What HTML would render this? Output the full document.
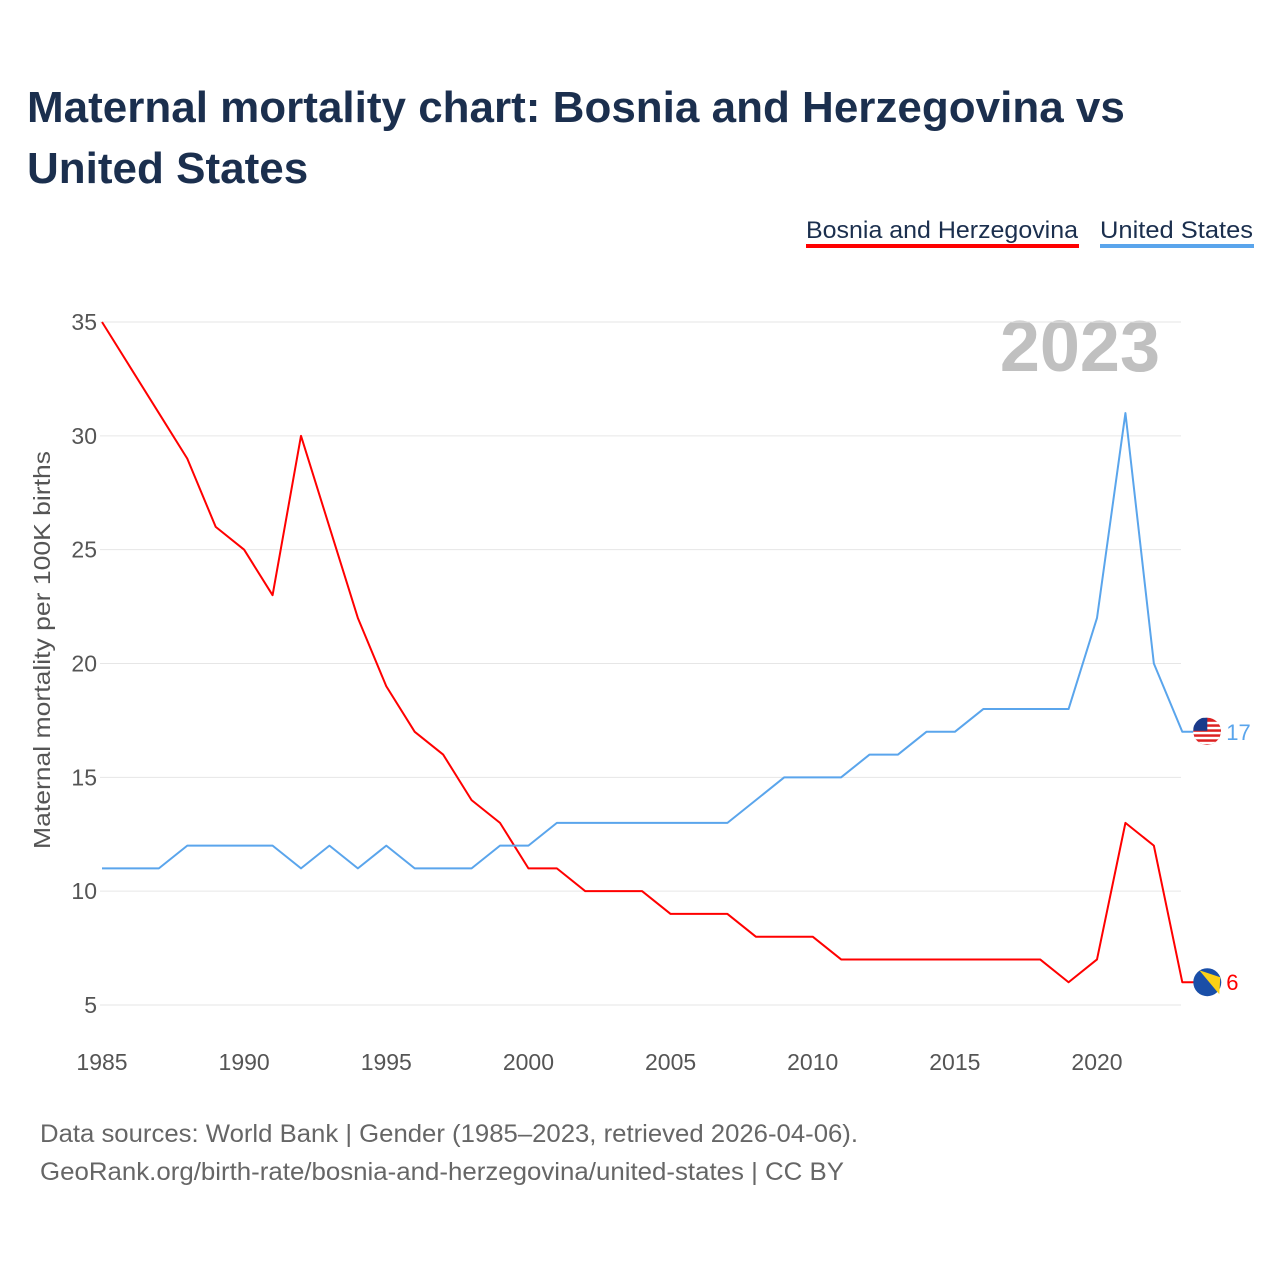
<!DOCTYPE html>
<html><head><meta charset="utf-8"><style>
body{margin:0;background:#fff;font-family:"Liberation Sans",sans-serif}
</style></head><body>
<svg width="1280" height="1280" xmlns="http://www.w3.org/2000/svg" id="svg" font-family="Liberation Sans, sans-serif">
<defs><clipPath id="usclip"><circle cx="1207" cy="731" r="14"/></clipPath></defs>
<text x="27" y="122" font-size="44" font-weight="bold" fill="#1b2f4e">Maternal mortality chart: Bosnia and Herzegovina vs</text>
<text x="27" y="183" font-size="44" font-weight="bold" fill="#1b2f4e">United States</text>
<g><text x="806" y="238" font-size="24" fill="#1b2f4e" textLength="272" lengthAdjust="spacingAndGlyphs">Bosnia and Herzegovina</text><rect x="806" y="244" width="273" height="4" fill="#ff0000"/></g>
<g><text x="1100" y="238" font-size="24" fill="#1b2f4e" textLength="153" lengthAdjust="spacingAndGlyphs">United States</text><rect x="1100" y="244" width="154" height="4" fill="#5aa5ec"/></g>
<text x="1160" y="371" font-size="72" font-weight="bold" fill="#c0c0c0" text-anchor="end">2023</text>
<text transform="translate(50,650) rotate(-90)" font-size="23" fill="#555" text-anchor="middle" textLength="398" lengthAdjust="spacingAndGlyphs">Maternal mortality per 100K births</text>
<g id="grid"></g><g id="xt"></g><g id="series"></g>
<text x="40" y="1142" font-size="25" fill="#666" textLength="818" lengthAdjust="spacingAndGlyphs">Data sources: World Bank | Gender (1985–2023, retrieved 2026-04-06).</text>
<text x="40" y="1180" font-size="25" fill="#666" textLength="804" lengthAdjust="spacingAndGlyphs">GeoRank.org/birth-rate/bosnia-and-herzegovina/united-states | CC BY</text>
</svg>
<script>
const years=[];for(let y=1985;y<=2023;y++)years.push(y);
const bosnia=[35,33,31,29,26,25,23,30,26,22,19,17,16,14,13,11,11,10,10,10,9,9,9,8,8,8,7,7,7,7,7,7,7,7,6,7,13,12,6];
const us=[11,11,11,12,12,12,12,11,12,11,12,11,11,11,12,12,13,13,13,13,13,13,13,14,15,15,15,16,16,17,17,18,18,18,18,22,31,20,17];
const yTicks=[5,10,15,20,25,30,35];
const xTicks=[1985,1990,1995,2000,2005,2010,2015,2020];
const NS="http://www.w3.org/2000/svg";
const X=y=>102+(y-1985)*(995/35);
const Y=v=>1005-(v-5)*(683/30);
function mk(t,a,p){const e=document.createElementNS(NS,t);for(const k in a)e.setAttribute(k,a[k]);p.appendChild(e);return e;}
const grid=document.getElementById('grid'),xt=document.getElementById('xt'),ser=document.getElementById('series');
yTicks.forEach(v=>{
 const l=mk('line',{x1:100,x2:1181,y1:Y(v),y2:Y(v),stroke:'#e6e6e6','stroke-width':1},grid);
 
 
 const t=mk('text',{x:97,y:Y(v)+8,'font-size':23,fill:'#555','text-anchor':'end'},grid);t.textContent=v;
 
 
});
xTicks.forEach(v=>{
 const t=mk('text',{x:X(v),y:1070,'font-size':23,fill:'#555','text-anchor':'middle'},xt);t.textContent=v;
 
 
});
function line(vals,col,name){
 const last=vals[vals.length-1],lx=X(years[years.length-1]);
 const pts=vals.map((v,i)=>X(years[i])+','+Y(v));pts.push((lx+12)+','+Y(last));
 const p=mk('polyline',{points:pts.join(' '),fill:'none',stroke:col,'stroke-width':2,'stroke-linejoin':'round'},ser);
 
 
 const g=mk('g',{},ser);
 
 
 if(name=='us'){
  g.setAttribute('clip-path','url(#usclip)');
  mk('circle',{cx:lx+25,cy:Y(last),r:14,fill:'#d22'},g);
  for(let k=-10;k<14;k+=5)mk('rect',{x:lx+10,y:Y(last)+k,width:30,height:2.5,fill:'#fff'},g);
  mk('rect',{x:lx+11,y:Y(last)-14,width:14,height:13,fill:'#1a3a8a'},g);
 } else {
  mk('circle',{cx:lx+25,cy:Y(last),r:14,fill:'#1a4fa8'},g);
  mk('path',{d:`M${lx+17} ${Y(last)-12} L${lx+38} ${Y(last)-5} L${lx+37} ${Y(last)+12} Z`,fill:'#fcd116'},g);
 }
 const t=mk('text',{x:lx+44,y:Y(last)+8,'font-size':22,fill:col},ser);t.textContent=last;
 
 
}
line(bosnia,'#ff0000','bosnia');
line(us,'#5aa5ec','us');
</script>
</body></html>
